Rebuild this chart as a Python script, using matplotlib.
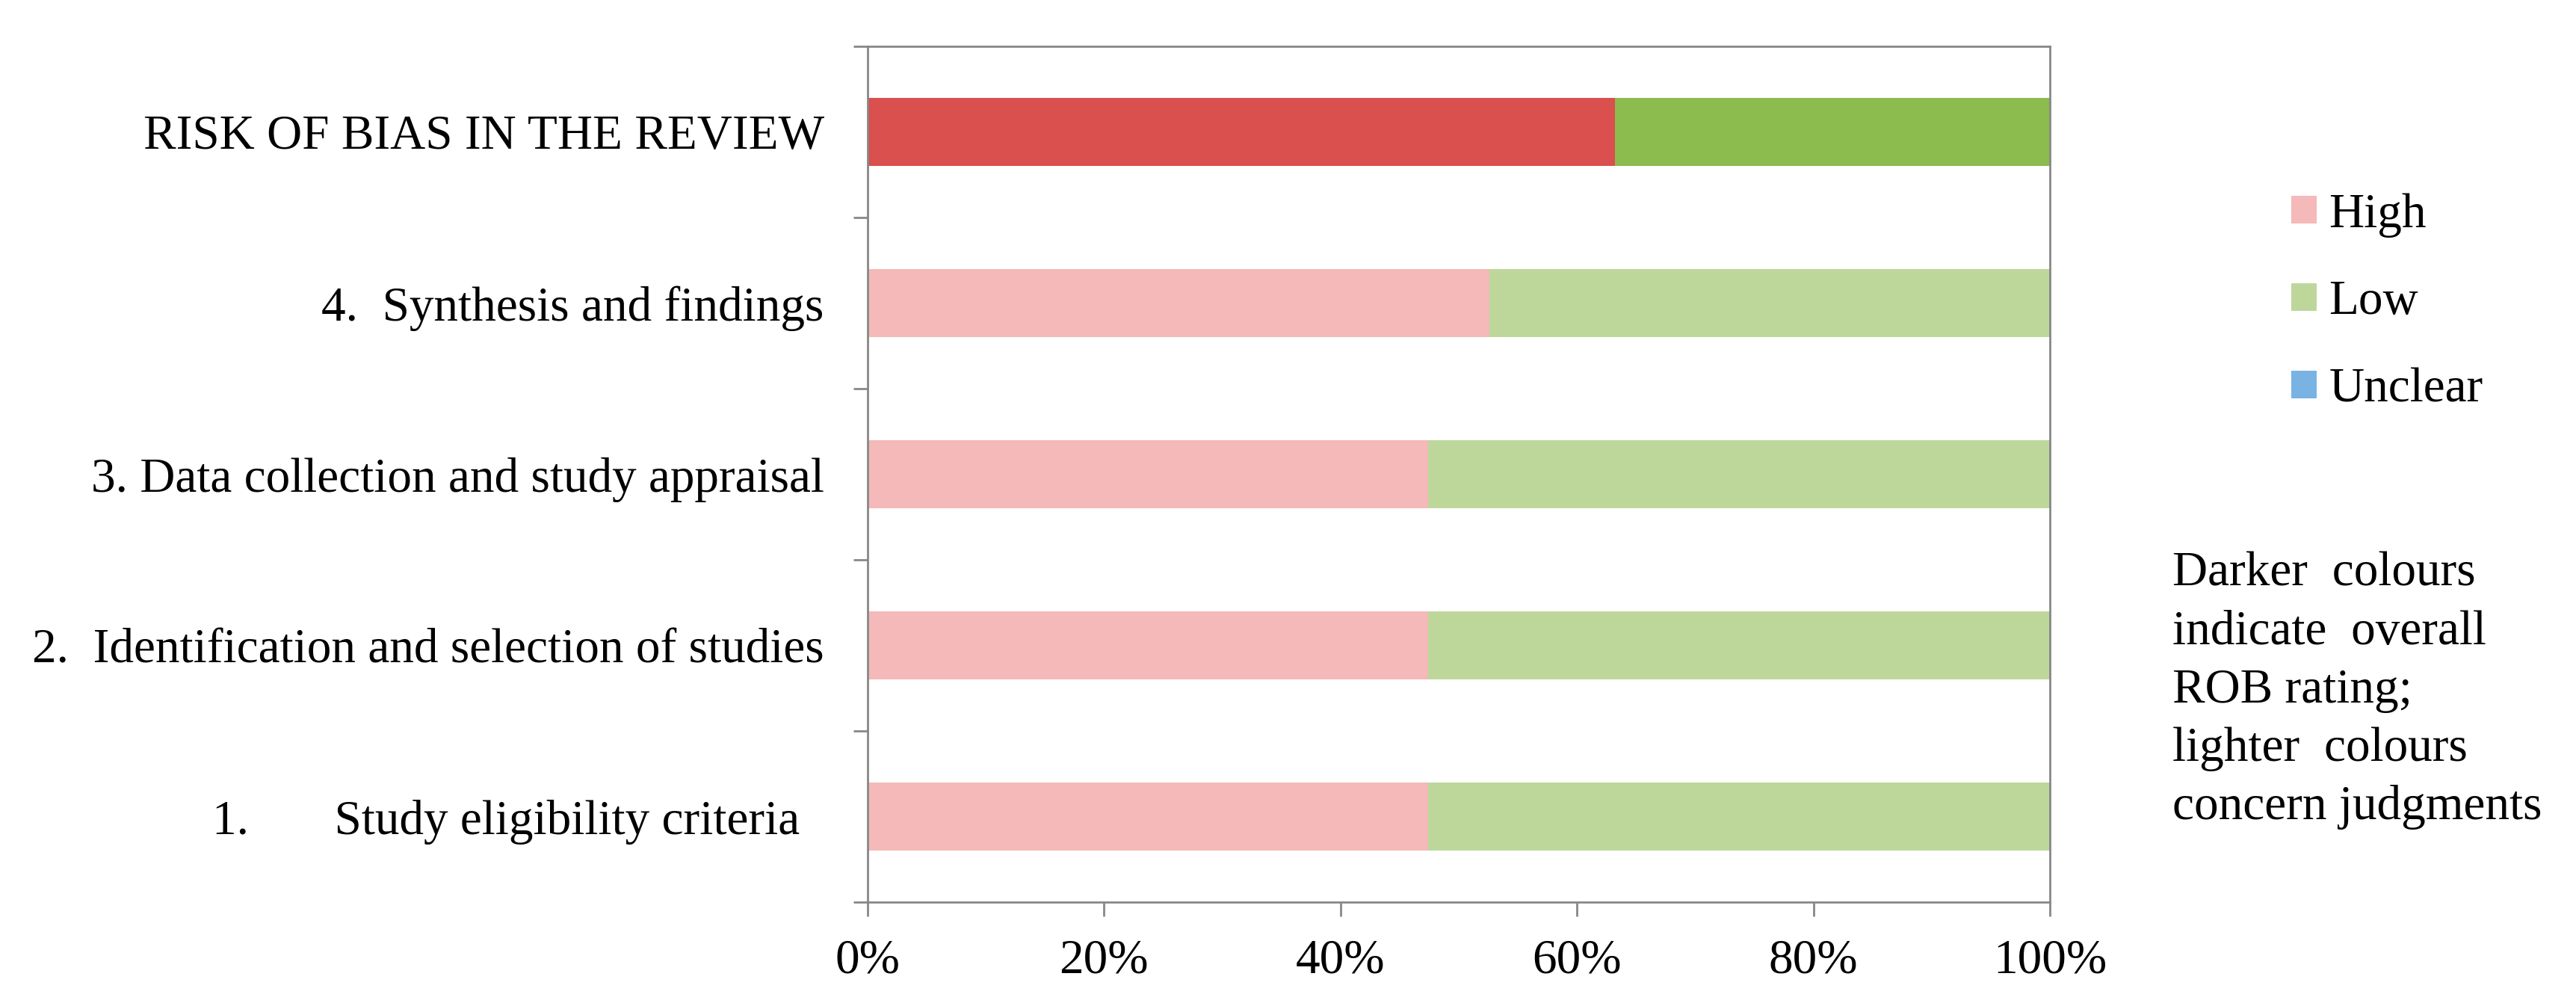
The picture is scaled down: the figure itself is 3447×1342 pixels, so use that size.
import matplotlib.pyplot as plt

# categories bottom -> top
categories = ['1.       Study eligibility criteria  ',
              '2.  Identification and selection of studies',
              '3. Data collection and study appraisal',
              '4.  Synthesis and findings',
              'RISK OF BIAS IN THE REVIEW']
high = [47.4, 47.4, 47.4, 52.6, 63.2]
low = [52.6, 52.6, 52.6, 47.4, 36.8]
unclear = [0, 0, 0, 0, 0]

note_lines = ['Darker  colours', 'indicate  overall', 'ROB rating;',
              'lighter  colours', 'concern judgments']

plt.rcParams['font.family'] = ['Liberation Serif', 'DejaVu Serif']

high_cols = ['#F4B9B8'] * 4 + ['#D9504E']
low_cols = ['#BDD79B'] * 4 + ['#8CBB4E']
unclear_col = '#78B3E4'
grey = '#878787'

fig = plt.figure(figsize=(34.48, 13.42), dpi=100)
ax = fig.add_axes([1161 / 3448, 1 - 1207 / 1342, (2743 - 1161) / 3448, (1207 - 62) / 1342])

y = list(range(len(categories)))
ax.barh(y, high, height=0.4, color=high_cols, label='High')
ax.barh(y, low, left=high, height=0.4, color=low_cols, label='Low')
left_u = [h + l for h, l in zip(high, low)]
ax.barh(y, unclear, left=left_u, height=0.4, color=unclear_col, label='Unclear')

ax.set_xlim(0, 100)
ax.set_ylim(-0.5, len(categories) - 0.5)

ax.set_xticks([0, 20, 40, 60, 80, 100])
ax.set_xticklabels(['0%', '20%', '40%', '60%', '80%', '100%'], fontsize=47)
ax.tick_params(axis='x', length=14, width=2, color=grey, pad=21)

# ticks between categories, labels at centres
ax.set_yticks([i - 0.5 for i in range(len(categories) + 1)])
ax.set_yticklabels([])
ax.tick_params(axis='y', which='major', length=14, width=2, color=grey)
ax.set_yticks(y, minor=True)
ax.set_yticklabels(categories, minor=True, fontsize=47)
ax.tick_params(axis='y', which='minor', length=0, pad=42)

for s in ax.spines.values():
    s.set_color(grey)
    s.set_linewidth(2)

fig.legend(loc='upper left', bbox_to_anchor=(3066 / 3448, 1 - 258 / 1342),
           frameon=False, fontsize=47, handlelength=0.52, handleheight=0.5,
           handletextpad=0.25, labelspacing=0.88, borderpad=0, borderaxespad=0)

for i, line in enumerate(note_lines):
    fig.text(2907 / 3448, 1 - (784 + 78 * i) / 1342, line, fontsize=47,
             ha='left', va='baseline')

fig.savefig('out.png', dpi=100)
